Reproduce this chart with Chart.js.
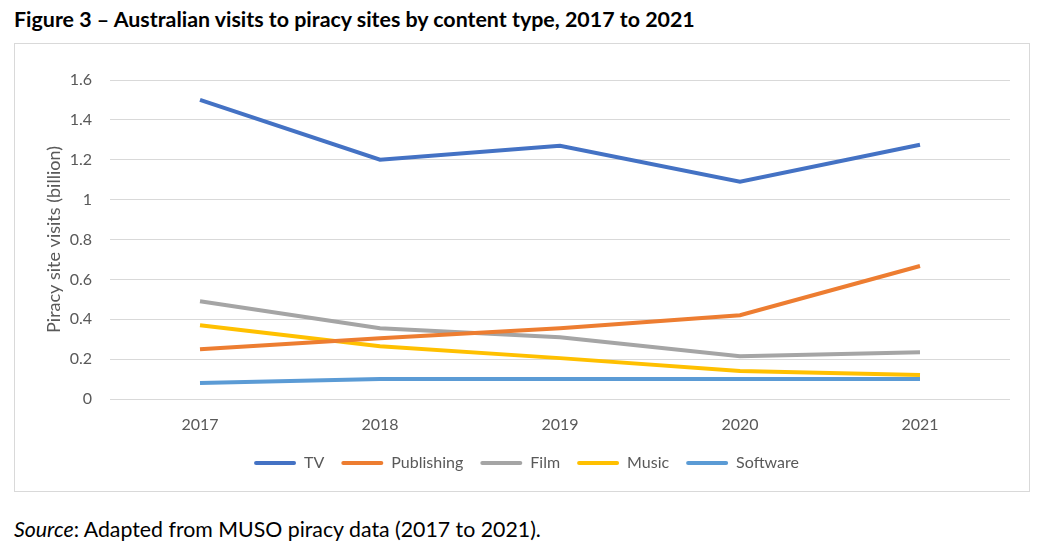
<!DOCTYPE html>
<html>
<head>
<meta charset="utf-8">
<script src="https://cdn.jsdelivr.net/npm/chart.js@4"></script>
<style>
    body { margin: 0; background: #fff; font-family: Lato, 'Liberation Sans', sans-serif; }
    #titulo { position: absolute; left: 14px; top: 6px; font-weight: bold; font-size: 21.4px; color: #000; white-space: nowrap; }
    #caja { position: absolute; left: 14px; top: 43px; width: 1014px; height: 447px; border: 1px solid #d9d9d9; }
    #fuente { position: absolute; left: 14px; top: 516px; font-size: 21.3px; color: #000; white-space: nowrap; }
</style>
</head>
<body>
<div id="titulo">Figure 3 – Australian visits to piracy sites by content type, 2017 to 2021</div>
<div id="caja"><canvas id="grafico"></canvas></div>
<div id="fuente"><i>Source</i>: Adapted from MUSO piracy data (2017 to 2021).</div>
<script>
const anios = ['2017', '2018', '2019', '2020', '2021'];
const series = ['TV', 'Publishing', 'Film', 'Music', 'Software'];
const tv = [1.50, 1.20, 1.27, 1.09, 1.275];
const publishing = [0.25, 0.305, 0.355, 0.42, 0.667];
const film = [0.49, 0.355, 0.31, 0.215, 0.235];
const music = [0.37, 0.265, 0.205, 0.14, 0.12];
const software = [0.08, 0.10, 0.10, 0.10, 0.10];
const colores = ['#4472C4', '#ED7D31', '#A5A5A5', '#FFC000', '#5B9BD5'];

const valores = [tv, publishing, film, music, software];
const familia = "Lato, 'Liberation Sans', sans-serif";
const fuenteEje = { family: familia, size: 16 };

new Chart(document.getElementById('grafico').getContext('2d'), {
    type: 'line',
    data: {
        labels: anios,
        datasets: series.map((nombre, i) => ({
            label: nombre,
            data: valores[i],
            borderColor: colores[i],
            backgroundColor: colores[i],
            borderWidth: 4,
            pointRadius: 0,
            tension: 0
        }))
    },
    options: {
        responsive: true,
        maintainAspectRatio: false,
        animation: false,
        layout: { padding: { top: 36, right: 19, bottom: 10, left: 28 } },
        plugins: {
            legend: {
                position: 'bottom',
                labels: {
                    boxWidth: 42,
                    boxHeight: 4,
                    padding: 17,
                    color: '#595959',
                    font: fuenteEje,
                    useBorderRadius: true,
                    borderRadius: 2,
                    generateLabels: chart => Chart.defaults.plugins.legend.labels.generateLabels(chart)
                        .map(item => ({ ...item, lineWidth: 0 }))
                }
            },
            tooltip: { enabled: false }
        },
        scales: {
            x: {
                offset: true,
                grid: { display: false },
                border: { display: false },
                ticks: { color: '#595959', font: fuenteEje, padding: 8 },
                afterFit: s => { s.height = 39; }
            },
            y: {
                min: 0,
                max: 1.6,
                ticks: {
                    stepSize: 0.2,
                    color: '#595959',
                    font: fuenteEje,
                    padding: 18,
                    callback: v => String(Number(v.toFixed(1)))
                },
                grid: { color: '#d9d9d9', lineWidth: 1, drawTicks: false },
                border: { display: false },
                title: {
                    display: true,
                    text: 'Piracy site visits (billion)',
                    color: '#595959',
                    font: { family: familia, size: 18 },
                    padding: { top: 0, bottom: 0 }
                },
                afterFit: s => { s.width = 67; }
            }
        }
    }
});
</script>
</body>
</html>
